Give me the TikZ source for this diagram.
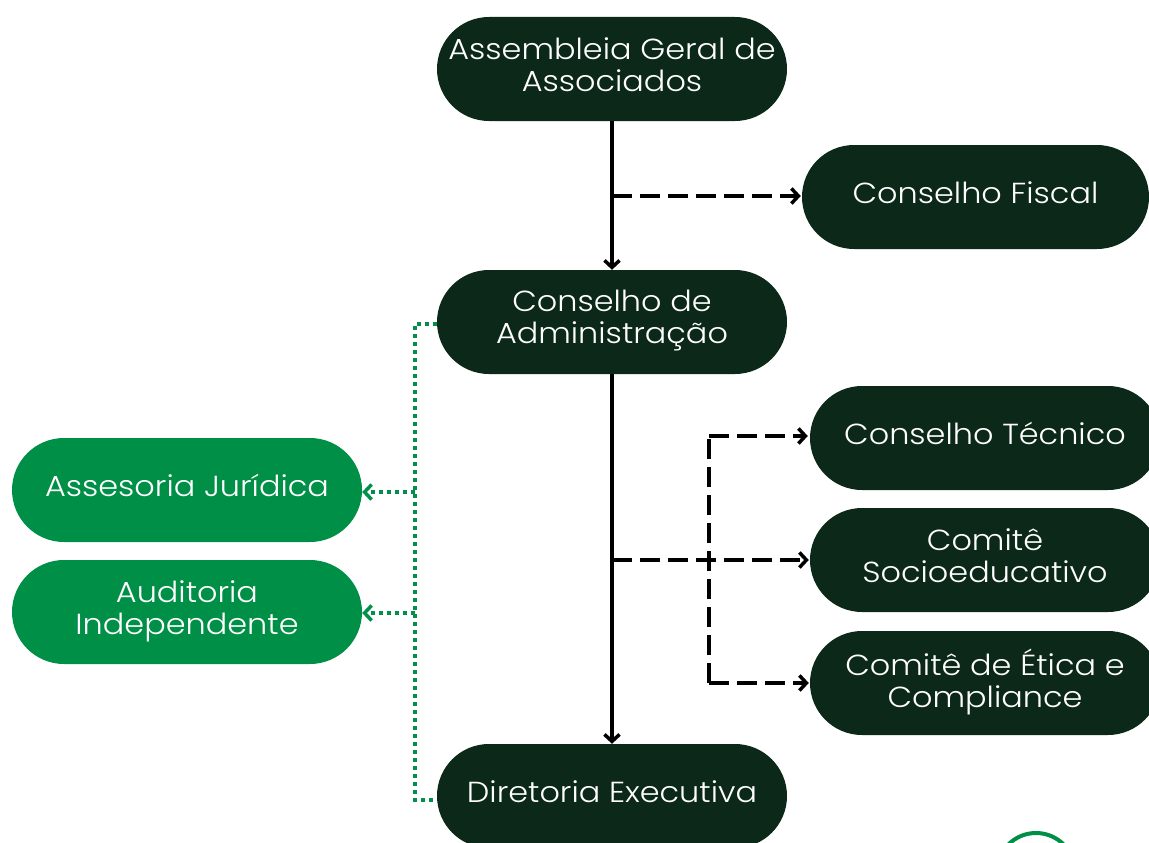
\documentclass[tikz,border=0pt]{standalone}
\usepackage{fontspec}
\setmainfont{Poppins}[UprightFont={* Light},FakeStretch=1.1]
\usetikzlibrary{arrows.meta}
\definecolor{dkgreen}{HTML}{0B2818}
\definecolor{brgreen}{HTML}{008F46}
\definecolor{dotgreen}{HTML}{00904A}
\begin{document}
\begin{tikzpicture}[x=1pt,y=-1pt,
  pill/.style={fill=dkgreen,text=white,minimum width=350pt,minimum height=104pt,
    rounded corners=52pt,align=center,inner sep=0pt,
    font=\fontsize{29}{32}\selectfont,
    execute at begin node=\strut,
    execute at end node={\rule[-8pt]{0pt}{0pt}}},
  gpill/.style={pill,fill=brgreen},
  tip/.style={-{Straight Barb[length=7pt,width=15pt,line width=3.5pt]}},
  solidc/.style={line width=4pt,draw=black},
  dsh/.style={line width=4pt,draw=black,dash pattern=on 20pt off 8pt},
  dotc/.style={line width=4pt,draw=dotgreen,dash pattern=on 4pt off 4pt}]
\useasboundingbox (0,0) rectangle (1149,843);
\clip (0,0) rectangle (1149,843);
\node[pill] (ag) at (612,69) {Assembleia Geral de\\Associados};
\node[pill,minimum width=347pt] (cf) at (975.5,197) {Conselho Fiscal};
\node[pill] (ca) at (612,322) {Conselho de\\Administração};
\node[pill] (ct) at (985,438) {Conselho Técnico};
\node[pill] (cs) at (985,560) {Comitê\\Socioeducativo};
\node[pill] (ce) at (985,683) {Comitê de Ética e\\Compliance};
\node[gpill] (aj) at (187,490) {Assesoria Jurídica};
\node[gpill] (ai) at (187,612) {Auditoria\\Independente};
\node[pill] (de) at (612,796) {Diretoria Executiva};
% trunk
\draw[solidc,tip] (ag.south) -- (ca.north);
\draw[solidc,tip] (ca.south) -- (de.north);
% dashed branches
\coordinate (j1) at (612,196);
\draw[dsh,tip,shorten >=1pt] (j1) -- (j1 -| cf.west);
\coordinate (j2) at (612,560);
\draw[dsh,tip,shorten >=1pt] (j2) -- (cs.west);
\coordinate (vt) at (709,436);
\coordinate (ve) at (709,683);
\draw[dsh] (ve) -- (vt);
\draw[dsh,tip,shorten >=2pt] (vt) -- (vt -| ct.west);
\draw[dsh,tip,shorten >=1pt] (ve) -- (ve -| ce.west);
% green dotted
\coordinate (gt) at (415,324);
\coordinate (gb) at (415,800);
\draw[dotc] (ca.west |- gt) -- (gt) -- (gb) -- (de.west |- gb);
\coordinate (g1) at (415,492);
\coordinate (g2) at (415,613);
\draw[dotc,-{Straight Barb[length=7pt,width=15pt,line width=3.5pt]},draw=dotgreen] (g1) -- (g1 -| aj.east);
\draw[dotc,-{Straight Barb[length=7pt,width=15pt,line width=3.5pt]},draw=dotgreen] (g2) -- (g2 -| ai.east);
% partial circle
\draw[brgreen,line width=4pt] (1036,872) circle (39);
\end{tikzpicture}
\end{document}
